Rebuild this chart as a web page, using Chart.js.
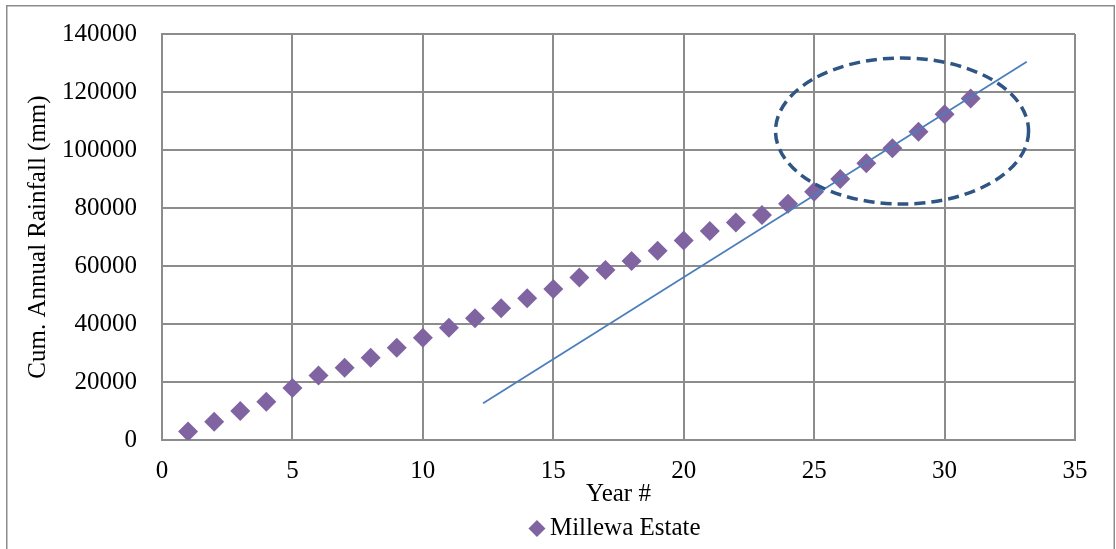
<!DOCTYPE html>
<html>
<head>
<meta charset="utf-8">
<script src="https://cdn.jsdelivr.net/npm/chart.js@4/dist/chart.umd.min.js"></script>
<style>
  html, body { margin: 0; padding: 0; background: #ffffff; }
  canvas { display: block; }
</style>
</head>
<body>
<canvas id="c" width="1116" height="549"></canvas>
<script>
// ---- data ----
const years = [1,2,3,4,5,6,7,8,9,10,11,12,13,14,15,16,17,18,19,20,21,22,23,24,25,26,27,28,29,30,31];
const cumRainfall = [2900,6300,10000,13200,17900,22200,24900,28400,31800,35300,38700,42000,45400,48900,52100,56000,58600,61700,65300,68800,72100,75000,77600,81500,85600,90000,95400,100600,106300,112300,117800];
const trendX = [12.31, 33.15];
const trendY = [12650, 130450];
const seriesName = 'Millewa Estate';
const xTitle = 'Year #';
const yTitle = 'Cum. Annual Rainfall (mm)';
const xTickRange = [0, 35, 5];
const yTickRange = [0, 140000, 20000];
// highlight ellipse (data units): centre x, centre y, radius x, radius y
const ellipseCenter = [28.37, 106550];
const ellipseRadius = [4.85, 25170];

const FONT = "'Liberation Serif', 'Times New Roman', serif";
const GRID = '#8c8c8c';

const scatterPoints = years.map((x, i) => ({ x, y: cumRainfall[i] }));
const trendPoints = trendX.map((x, i) => ({ x, y: trendY[i] }));

const frame = {
  id: 'frame',
  beforeDraw(chart) {
    const ctx = chart.ctx;
    ctx.save();
    ctx.fillStyle = '#ffffff';
    ctx.fillRect(0, 0, chart.width, chart.height);
    ctx.strokeStyle = GRID;
    ctx.lineWidth = 1.5;
    ctx.strokeRect(6.75, 5.75, 1107.5, 560);
    ctx.restore();
  }
};

const ellipse = {
  id: 'ellipse',
  afterDatasetsDraw(chart) {
    const xs = chart.scales.x, ys = chart.scales.y;
    const cx = xs.getPixelForValue(ellipseCenter[0]);
    const cy = ys.getPixelForValue(ellipseCenter[1]);
    const rx = Math.abs(xs.getPixelForValue(ellipseCenter[0] + ellipseRadius[0]) - cx);
    const ry = Math.abs(ys.getPixelForValue(ellipseCenter[1] + ellipseRadius[1]) - cy);
    const ctx = chart.ctx;
    ctx.save();
    ctx.strokeStyle = '#2f5585';
    ctx.lineWidth = 3.5;
    ctx.setLineDash([11, 6]);
    ctx.beginPath();
    ctx.ellipse(cx, cy, rx, ry, 0, 0, Math.PI * 2);
    ctx.stroke();
    ctx.restore();
  }
};

new Chart(document.getElementById('c'), {
  type: 'scatter',
  data: {
    datasets: [
      {
        label: seriesName,
        data: scatterPoints,
        pointStyle: 'rectRot',
        pointRadius: 10,
        pointHoverRadius: 10,
        backgroundColor: '#8064a2',
        borderColor: '#8064a2',
        borderWidth: 0,
        order: 2
      },
      {
        label: 'trend',
        type: 'line',
        data: trendPoints,
        borderColor: '#4a7ebb',
        borderWidth: 1.75,
        pointRadius: 0,
        fill: false,
        order: 1
      }
    ]
  },
  options: {
    responsive: false,
    animation: false,
    layout: { padding: { left: 14, top: 34, right: 41, bottom: -2 } },
    plugins: {
      tooltip: { enabled: false },
      legend: {
        position: 'bottom',
        fullSize: false,
        labels: {
          usePointStyle: true,
          boxWidth: 1,
          boxHeight: 12,
          padding: 10,
          color: '#000000',
          font: { family: FONT, size: 25 },
          filter: (item) => item.datasetIndex === 0
        }
      }
    },
    scales: {
      x: {
        type: 'linear',
        min: xTickRange[0],
        max: xTickRange[1],
        afterFit: (s) => { s.height = 66; },
        ticks: { stepSize: xTickRange[2], color: '#000000', font: { family: FONT, size: 25 }, padding: 16 },
        grid: { color: GRID, lineWidth: 2, drawTicks: false },
        border: { color: GRID, width: 2 },
        title: { display: true, text: xTitle, color: '#000000', font: { family: FONT, size: 25 }, padding: { top: 0, bottom: -3 } }
      },
      y: {
        type: 'linear',
        min: yTickRange[0],
        max: yTickRange[1],
        afterFit: (s) => { s.width = 148; s.paddingTop = 0; s.paddingBottom = 0; },
        ticks: { stepSize: yTickRange[2], color: '#000000', font: { family: FONT, size: 25 }, padding: 25, callback: (v) => String(v) },
        grid: { color: GRID, lineWidth: 2, drawTicks: false },
        border: { color: GRID, width: 2 },
        title: { display: true, text: yTitle, color: '#000000', font: { family: FONT, size: 25 }, padding: { top: 9, bottom: 0 } }
      }
    }
  },
  plugins: [frame, ellipse]
});
</script>
</body>
</html>
